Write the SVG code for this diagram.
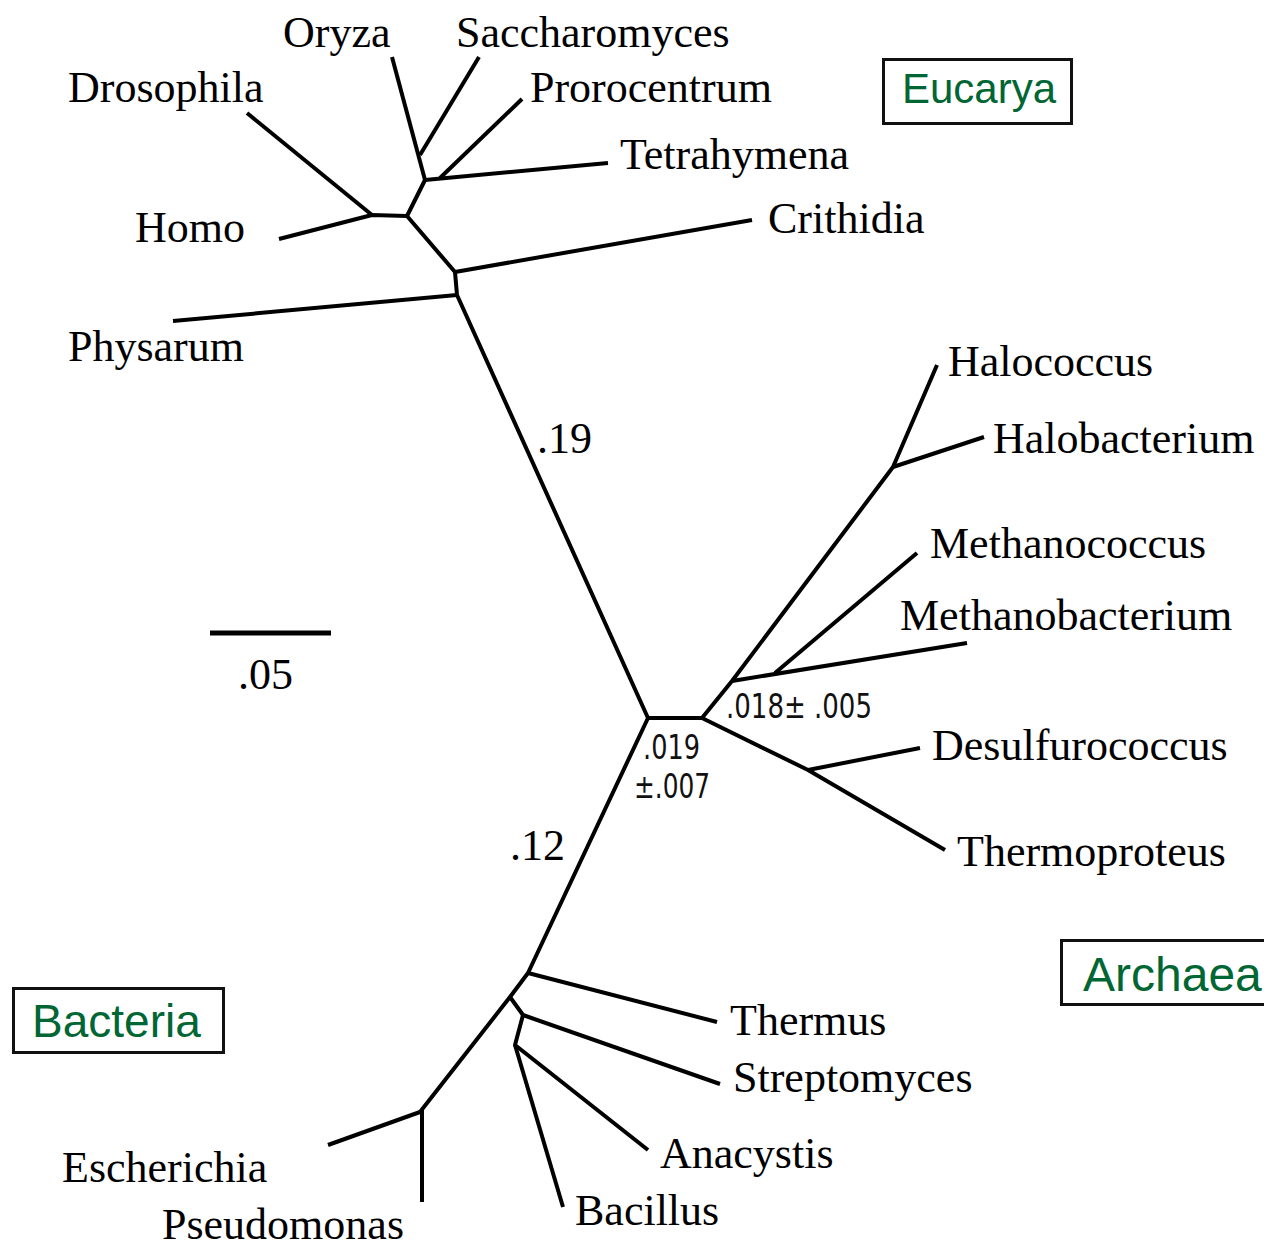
<svg xmlns="http://www.w3.org/2000/svg" width="1264" height="1249" viewBox="0 0 1264 1249">
<style>
.t{font-family:"Liberation Serif","Times New Roman",serif;font-size:44px;fill:#000}
.n{font-family:"DejaVu Sans Condensed","DejaVu Sans",sans-serif;font-size:33px;fill:#111}
.d{font-family:"Liberation Sans",Arial,sans-serif;fill:#006633}
.box{fill:#fff;stroke:#111;stroke-width:3}
.br{fill:none;stroke:#000;stroke-width:4;stroke-linejoin:round;stroke-linecap:butt}
</style>
<rect width="1264" height="1249" fill="#fff"/>
<g id="connectors" class="br">
  <!-- Eucarya -->
  <polyline points="392,57 425,180"/>
  <polyline points="479,57 420,155"/>
  <polyline points="522,99 440,178"/>
  <polyline points="425,180 608,163"/>
  <polyline points="425,180 407,216"/>
  <polyline points="247,113 372,215"/>
  <polyline points="279,239 372,215 407,216 455,272"/>
  <polyline points="455,272 752,220"/>
  <polyline points="455,272 457,295"/>
  <polyline points="457,295 173,321"/>
  <polyline points="457,295 648,718 702,718"/>
  <!-- Archaea -->
  <polyline points="702,718 732,681 893,467 937,365"/>
  <polyline points="893,467 984,437"/>
  <polyline points="732,681 967,643"/>
  <polyline points="775,673 917,553"/>
  <polyline points="702,718 808,770 945,850"/>
  <polyline points="808,770 920,748"/>
  <!-- Bacteria -->
  <polyline points="648,718 528,973 510,997 420,1112"/>
  <polyline points="528,973 717,1022"/>
  <polyline points="510,997 523,1015 720,1084"/>
  <polyline points="523,1015 515,1045 648,1150"/>
  <polyline points="515,1045 563,1207"/>
  <polyline points="420,1112 328,1145"/>
  <polyline points="422,1110 422,1202"/>
  <!-- scale bar -->
  <line x1="210" y1="633" x2="331" y2="633" stroke-width="5"/>
</g>
<g id="node-oryza"><text class="t" x="283" y="47">Oryza</text></g>
<g id="node-saccharomyces"><text class="t" x="456" y="47">Saccharomyces</text></g>
<g id="node-drosophila"><text class="t" x="68" y="102">Drosophila</text></g>
<g id="node-prorocentrum"><text class="t" x="530" y="102">Prorocentrum</text></g>
<g id="node-tetrahymena"><text class="t" x="620" y="169">Tetrahymena</text></g>
<g id="node-homo"><text class="t" x="135" y="242">Homo</text></g>
<g id="node-crithidia"><text class="t" x="768" y="233">Crithidia</text></g>
<g id="node-physarum"><text class="t" x="68" y="361">Physarum</text></g>
<g id="node-halococcus"><text class="t" x="948" y="376">Halococcus</text></g>
<g id="node-halobacterium"><text class="t" x="993" y="453">Halobacterium</text></g>
<g id="node-methanococcus"><text class="t" x="930" y="558">Methanococcus</text></g>
<g id="node-methanobacterium"><text class="t" x="900" y="630">Methanobacterium</text></g>
<g id="node-desulfurococcus"><text class="t" x="932" y="760">Desulfurococcus</text></g>
<g id="node-thermoproteus"><text class="t" x="957" y="866">Thermoproteus</text></g>
<g id="node-thermus"><text class="t" x="730" y="1035">Thermus</text></g>
<g id="node-streptomyces"><text class="t" x="733" y="1092">Streptomyces</text></g>
<g id="node-anacystis"><text class="t" x="660" y="1168">Anacystis</text></g>
<g id="node-bacillus"><text class="t" x="575" y="1225">Bacillus</text></g>
<g id="node-escherichia"><text class="t" x="62" y="1182">Escherichia</text></g>
<g id="node-pseudomonas"><text class="t" x="162" y="1239">Pseudomonas</text></g>
<g id="labels">
  <text class="t" x="537" y="453">.19</text>
  <text class="t" x="510" y="860">.12</text>
  <text class="t" x="238" y="689">.05</text>
  <text class="n" x="726" y="718" textLength="146" lengthAdjust="spacingAndGlyphs">.018± .005</text>
  <text class="n" x="643" y="759" textLength="57" lengthAdjust="spacingAndGlyphs">.019</text>
  <text class="n" x="634" y="798" textLength="76" lengthAdjust="spacingAndGlyphs">±.007</text>
</g>
<g id="node-eucarya">
  <rect class="box" x="883.5" y="59.5" width="188" height="64"/>
  <text class="d" x="902" y="103" font-size="42">Eucarya</text>
</g>
<g id="node-archaea">
  <rect class="box" x="1061.5" y="940.5" width="210" height="64"/>
  <text class="d" x="1083" y="991" font-size="48">Archaea</text>
</g>
<g id="node-bacteria">
  <rect class="box" x="13.5" y="988.5" width="210" height="64"/>
  <text class="d" x="32" y="1037" font-size="46">Bacteria</text>
</g>
</svg>
